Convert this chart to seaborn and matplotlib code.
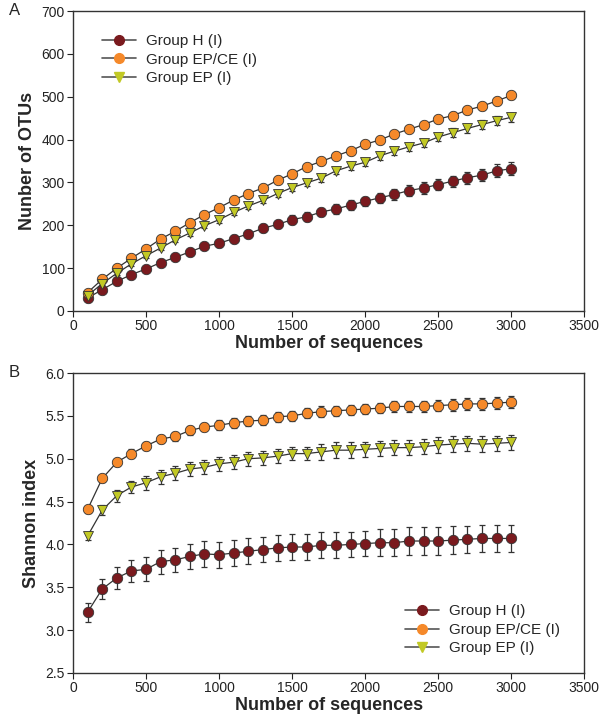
import numpy as np
import pandas as pd
import seaborn as sns
import matplotlib.pyplot as plt

# sequencing depth (x) shared by all curves
seqs = list(range(100, 3100, 100))

groups = ['Group H (I)', 'Group EP/CE (I)', 'Group EP (I)']

# --- panel A: number of OTUs ---
otu_h = [30, 50, 69, 85, 98, 113, 125, 138, 151, 158, 169, 180, 193, 202, 213,
         220, 231, 238, 247, 256, 264, 272, 281, 287, 295, 303, 311, 317, 327, 332]
otu_h_err = [3, 4, 5, 5, 6, 6, 6, 7, 7, 8, 8, 8, 9, 9, 10,
             10, 10, 11, 11, 11, 12, 12, 12, 13, 13, 13, 14, 14, 15, 15]
otu_epce = [43, 74, 100, 123, 145, 168, 186, 206, 225, 241, 259, 274, 287, 305, 320,
            337, 349, 362, 374, 389, 399, 413, 424, 435, 448, 456, 469, 478, 490, 503]
otu_epce_err = [3, 3, 4, 4, 4, 4, 5, 5, 5, 5, 5, 5, 6, 6, 6,
                6, 6, 6, 6, 7, 7, 7, 7, 7, 7, 8, 8, 8, 8, 8]
otu_ep = [36, 64, 88, 110, 129, 147, 166, 182, 199, 213, 230, 245, 258, 274, 288,
          299, 310, 327, 338, 347, 362, 373, 383, 392, 406, 416, 426, 435, 444, 452]
otu_ep_err = [3, 4, 4, 5, 5, 5, 6, 6, 6, 7, 7, 7, 7, 8, 8,
              8, 8, 8, 9, 9, 9, 9, 9, 10, 10, 10, 10, 10, 11, 11]

# --- panel B: Shannon index ---
sh_h = [3.21, 3.48, 3.61, 3.69, 3.71, 3.80, 3.82, 3.86, 3.89, 3.88, 3.90, 3.92, 3.94, 3.96, 3.97,
        3.97, 3.99, 3.99, 4.00, 4.01, 4.02, 4.02, 4.04, 4.04, 4.04, 4.05, 4.06, 4.07, 4.07, 4.07]
sh_h_err = [0.11, 0.12, 0.13, 0.13, 0.14, 0.14, 0.14, 0.15, 0.15, 0.15, 0.15, 0.15, 0.15, 0.15, 0.15,
            0.15, 0.15, 0.15, 0.15, 0.15, 0.16, 0.16, 0.16, 0.16, 0.16, 0.16, 0.16, 0.16, 0.16, 0.16]
sh_epce = [4.41, 4.77, 4.96, 5.06, 5.15, 5.23, 5.26, 5.33, 5.37, 5.39, 5.42, 5.44, 5.45, 5.49, 5.50,
           5.53, 5.55, 5.56, 5.57, 5.58, 5.59, 5.61, 5.61, 5.61, 5.62, 5.63, 5.64, 5.64, 5.65, 5.66]
sh_epce_err = [0.04, 0.04, 0.04, 0.05, 0.05, 0.05, 0.05, 0.05, 0.05, 0.06, 0.06, 0.06, 0.06, 0.06, 0.06,
               0.06, 0.06, 0.06, 0.06, 0.06, 0.06, 0.06, 0.06, 0.06, 0.06, 0.07, 0.07, 0.07, 0.07, 0.07]
sh_ep = [4.10, 4.40, 4.57, 4.67, 4.72, 4.79, 4.83, 4.88, 4.90, 4.94, 4.96, 5.00, 5.01, 5.03, 5.06,
         5.06, 5.08, 5.10, 5.10, 5.11, 5.12, 5.13, 5.13, 5.14, 5.16, 5.17, 5.18, 5.17, 5.18, 5.19]
sh_ep_err = [0.05, 0.06, 0.07, 0.07, 0.08, 0.08, 0.08, 0.08, 0.08, 0.08, 0.08, 0.08, 0.08, 0.08, 0.08,
             0.08, 0.09, 0.09, 0.09, 0.09, 0.09, 0.09, 0.09, 0.09, 0.09, 0.09, 0.09, 0.09, 0.09, 0.09]

colors = ['#7a1a1e', '#f5892a', '#c2c925']
markers = ['o', 'o', 'v']


def long_df(vals, errs):
    frames = []
    for g, v, e in zip(groups, vals, errs):
        frames.append(pd.DataFrame({'seqs': seqs, 'value': v, 'err': e, 'group': g}))
    return pd.concat(frames, ignore_index=True)


df_otu = long_df([otu_h, otu_epce, otu_ep], [otu_h_err, otu_epce_err, otu_ep_err])
df_sh = long_df([sh_h, sh_epce, sh_ep], [sh_h_err, sh_epce_err, sh_ep_err])

sns.set_style("ticks")
plt.rcParams['font.family'] = ['Liberation Sans', 'DejaVu Sans']

fig = plt.figure(figsize=(6, 7.21), dpi=100)
axA = fig.add_axes([0.1217, 0.5687, 0.852, 0.416])
axB = fig.add_axes([0.1217, 0.0666, 0.852, 0.416])


def draw(ax, df, legend_loc, legend_anchor):
    for g, c, m in zip(groups, colors, markers):
        d = df[df['group'] == g]
        ax.errorbar(d['seqs'], d['value'], yerr=d['err'], fmt='none',
                    ecolor='#333333', elinewidth=0.9, capsize=2.5, capthick=0.9, zorder=2)
    sns.lineplot(data=df, x='seqs', y='value', hue='group', style='group',
                 palette=dict(zip(groups, colors)), markers=dict(zip(groups, markers)),
                 dashes=False, ax=ax, zorder=3, markersize=7.5,
                 markeredgecolor='#333333', markeredgewidth=0.6, legend=False)
    for line in ax.lines:
        line.set_color('#333333')
        line.set_linewidth(0.9)
    for ln, c in zip(ax.lines[-3:], colors):
        ln.set_markerfacecolor(c)
    handles = [plt.Line2D([], [], color='#555555', lw=1.2, marker=m,
                          markerfacecolor=c, markeredgecolor=c, markersize=7)
               for c, m in zip(colors, markers)]
    ax.legend(handles, groups, loc=legend_loc, bbox_to_anchor=legend_anchor,
              frameon=False, fontsize=11, handlelength=2.2, handletextpad=0.7,
              labelspacing=0.3, borderaxespad=0)
    ax.set_xlim(0, 3500)
    ax.set_xticks(range(0, 3501, 500))
    ax.set_xlabel('Number of sequences', fontsize=13, fontweight='bold', labelpad=1)
    for s in ax.spines.values():
        s.set_visible(True)
        s.set_linewidth(1.0)
        s.set_color('#333333')
    ax.tick_params(axis='both', labelsize=10, direction='out', length=4,
                   colors='#222222', top=False, right=False, pad=2)


draw(axA, df_otu, 'upper left', (0.045, 0.943))
axA.set_ylim(0, 700)
axA.set_yticks(range(0, 701, 100))
axA.set_ylabel('Nunber of OTUs', fontsize=13, fontweight='bold', labelpad=4)

draw(axB, df_sh, 'lower right', (0.965, 0.038))
axB.set_ylim(2.5, 6.0)
axB.set_yticks(np.arange(2.5, 6.01, 0.5))
axB.set_yticklabels([f'{t:.1f}' for t in np.arange(2.5, 6.01, 0.5)])
axB.set_ylabel('Shannon index', fontsize=13, fontweight='bold', labelpad=4)

fig.text(0.015, 0.985, 'A', fontsize=12, va='center')
fig.text(0.015, 0.483, 'B', fontsize=12, va='center')

fig.savefig('out.png', dpi=100)
